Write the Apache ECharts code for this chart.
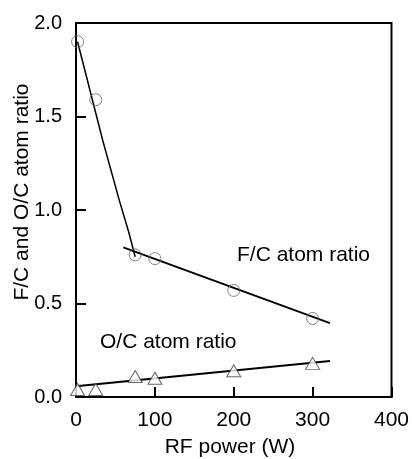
<!DOCTYPE html>
<html>
<head>
<meta charset="utf-8">
<script src="https://cdn.jsdelivr.net/npm/echarts@6/dist/echarts.min.js"></script>
<style>html,body{margin:0;padding:0;background:#fff;}#c{width:412px;height:459px;}</style>
</head>
<body>
<div id="c"></div>
<script>
// Data (RF power in W, atom ratios)
const fcPower = [2, 25, 75, 100, 200, 300];
const fcRatio = [1.90, 1.59, 0.76, 0.74, 0.57, 0.42];
const ocPower = [2, 25, 75, 100, 200, 300];
const ocRatio = [0.04, 0.04, 0.11, 0.10, 0.14, 0.18];
// Drawn trend lines
const fcSteepX = [2, 34, 55, 67, 75];
const fcSteepY = [1.90, 1.37, 1.05, 0.88, 0.75];
const fcFitX = [60, 322];
const fcFitY = [0.80, 0.395];
const ocFitX = [0, 322];
const ocFitY = [0.058, 0.193];
const xTicks = [0, 100, 200, 300, 400];
const yTicks = [0.0, 0.5, 1.0, 1.5, 2.0];
const xName = 'RF power (W)';
const yName = 'F/C and O/C atom ratio';
const fcLabel = 'F/C atom ratio';
const ocLabel = 'O/C atom ratio';

const zip = (a, b) => a.map((v, i) => [v, b[i]]);
const font = 'Liberation Sans, Arial, Helvetica, sans-serif';

const chart = echarts.init(document.getElementById('c'), null, {renderer: 'canvas'});
chart.setOption({
  animation: false,
  backgroundColor: '#fff',
  grid: {left: 76, right: 16, top: 23, bottom: 62, show: true, borderColor: '#000', borderWidth: 2, backgroundColor: 'transparent'},
  xAxis: {
    type: 'value', min: xTicks[0], max: xTicks[xTicks.length - 1], interval: 100,
    axisLine: {show: true, lineStyle: {color: '#000', width: 2}},
    axisTick: {show: true, inside: true, length: 10, lineStyle: {color: '#000', width: 2}},
    axisLabel: {fontFamily: font, fontSize: 21, color: '#000', margin: 13},
    splitLine: {show: false}
  },
  yAxis: {
    type: 'value', min: yTicks[0], max: yTicks[yTicks.length - 1], interval: 0.5,
    axisLine: {show: true, lineStyle: {color: '#000', width: 2}},
    axisTick: {show: true, inside: true, length: 10, lineStyle: {color: '#000', width: 2}},
    axisLabel: {fontFamily: font, fontSize: 20, color: '#000', margin: 14, formatter: v => v.toFixed(1)},
    splitLine: {show: false}
  },
  series: [
    {type: 'line', data: zip(fcSteepX, fcSteepY), symbol: 'none', lineStyle: {color: '#000', width: 1.5}, z: 2},
    {type: 'line', data: zip(fcFitX, fcFitY), symbol: 'none', lineStyle: {color: '#000', width: 2}, z: 2},
    {type: 'line', data: zip(ocFitX, ocFitY), symbol: 'none', lineStyle: {color: '#000', width: 2}, z: 2},
    {type: 'scatter', data: zip(fcPower, fcRatio), symbol: 'circle', symbolSize: 12,
     itemStyle: {color: 'rgba(255,255,255,0)', borderColor: '#666', borderWidth: 1}, z: 3},
    {type: 'scatter', data: zip(ocPower, ocRatio), symbol: 'triangle', symbolSize: [14, 12],
     itemStyle: {color: '#fff', borderColor: '#444', borderWidth: 1}, z: 3}
  ],
  graphic: [
    {type: 'text', x: 237, y: 255, style: {text: fcLabel, font: '21px ' + font, fill: '#000', verticalAlign: 'middle'}},
    {type: 'text', x: 100, y: 342, style: {text: ocLabel, font: '21px ' + font, fill: '#000', verticalAlign: 'middle'}},
    {type: 'text', x: 230, y: 447, style: {text: xName, font: '21px ' + font, fill: '#000', align: 'center', verticalAlign: 'middle'}},
    {type: 'text', x: 22, y: 192, rotation: Math.PI / 2, style: {text: yName, font: '21px ' + font, fill: '#000', align: 'center', verticalAlign: 'middle'}}
  ]
});
</script>
</body>
</html>
